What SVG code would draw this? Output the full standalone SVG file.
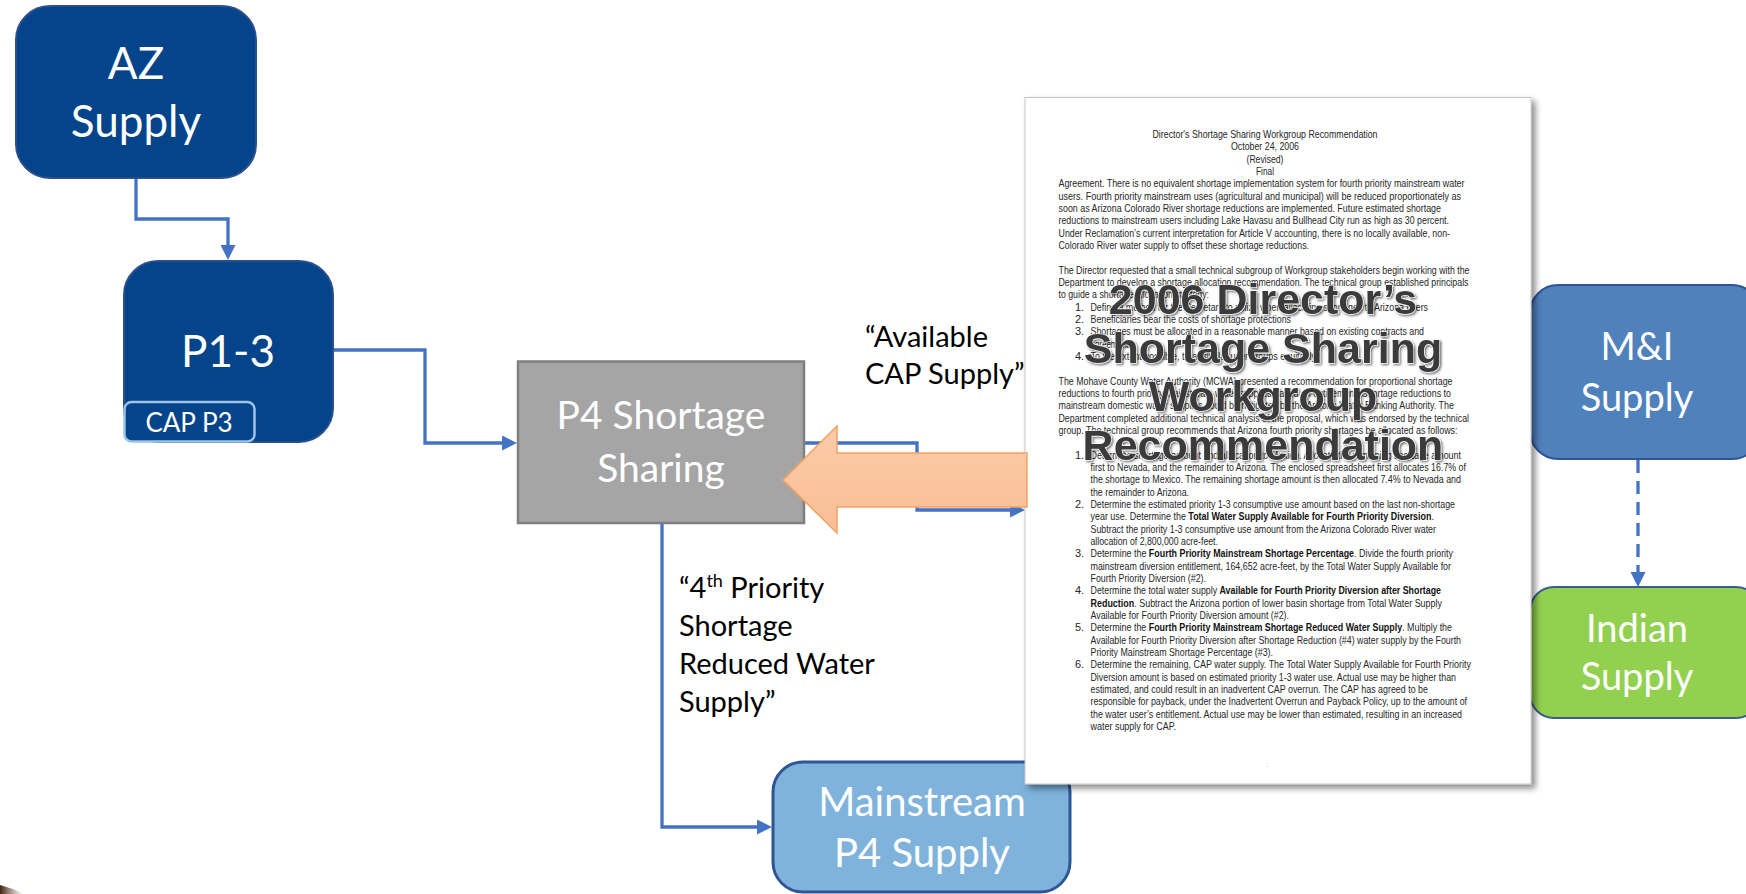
<svg xmlns="http://www.w3.org/2000/svg" width="1746" height="894" viewBox="0 0 1746 894">
  <defs>
    <style>
      .lbl { font-family: Lato, "Open Sans", sans-serif; fill: #ffffff; text-anchor: middle; }
      .note { font-family: Lato, "Open Sans", sans-serif; fill: #000000; font-size: 29px; }
      .wire { fill: none; stroke: #4472C4; stroke-width: 3.3; }
      .doc { font-family: "Liberation Sans", Arial, sans-serif; font-size: 11px; fill: #262626; }
      .doc .b { font-weight: bold; fill: #111111; }
      .ctr { text-anchor: middle; }
      .stamp { font-family: "Liberation Sans", Arial, sans-serif; font-weight: bold; font-size: 43px; fill: #3B3B3B; stroke: #ffffff; stroke-width: 1.2; paint-order: stroke; text-anchor: middle; }
    </style>
    <marker id="arr" viewBox="0 0 10 10" refX="7.3" refY="5" markerWidth="15" markerHeight="15" markerUnits="userSpaceOnUse" orient="auto">
      <path d="M0,0 L10,5 L0,10 z" fill="#4472C4"/>
    </marker>
    <filter id="pageShadow" x="-5%" y="-5%" width="115%" height="115%">
      <feDropShadow dx="4" dy="4" stdDeviation="3" flood-color="#000000" flood-opacity="0.45"/>
    </filter>
    <filter id="stampShadow" x="-5%" y="-20%" width="110%" height="140%">
      <feDropShadow dx="1.5" dy="1.5" stdDeviation="1.2" flood-color="#000000" flood-opacity="0.55"/>
    </filter>
    <linearGradient id="orange" x1="0" y1="0" x2="0" y2="1">
      <stop offset="0" stop-color="#FBCBA9"/>
      <stop offset="1" stop-color="#F9BE95"/>
    </linearGradient>
    <linearGradient id="smudge" x1="0" y1="0" x2="1" y2="0">
      <stop offset="0" stop-color="#3d2410"/>
      <stop offset="1" stop-color="#8a6a48" stop-opacity="0"/>
    </linearGradient>
  </defs>

  <rect width="1746" height="894" fill="#ffffff"/>
  <path d="M0,885 Q12,888 24,894 L0,894 Z" fill="url(#smudge)"/>

  <!-- flow lines -->
  <g id="connectors">
    <path class="wire" d="M136,178 V219 H228 V256" marker-end="url(#arr)"/>
    <path class="wire" d="M333,350 H425 V443 H513" marker-end="url(#arr)"/>
    <path class="wire" d="M805,443 H917 V510 H1021" marker-end="url(#arr)"/>
    <path class="wire" d="M662,523 V827 H768" marker-end="url(#arr)"/>
    <path class="wire" d="M1638,460 V583" stroke-dasharray="13 8" marker-end="url(#arr)"/>
    <text class="note" x="865" y="347">“Available</text>
    <text class="note" x="865" y="384">CAP Supply”</text>
    <text class="note" x="679" y="598">“4<tspan font-size="18" dy="-11">th</tspan><tspan dy="11"> Priority</tspan></text>
    <text class="note" x="679" y="636">Shortage</text>
    <text class="note" x="679" y="674">Reduced Water</text>
    <text class="note" x="679" y="712">Supply”</text>
  </g>

  <g id="az-supply">
    <rect x="16" y="6" width="240" height="172" rx="34" fill="#03448B" stroke="#2B4E8C" stroke-width="2"/>
    <text class="lbl" x="136" y="79" font-size="44">AZ</text>
    <text class="lbl" x="136" y="137" font-size="44">Supply</text>
  </g>

  <g id="p1-3">
    <rect x="124" y="261" width="209" height="181" rx="34" fill="#03448B" stroke="#2B4E8C" stroke-width="2"/>
    <text class="lbl" x="228" y="367" font-size="44">P1-3</text>
    <g id="cap-p3">
      <rect x="124.5" y="402" width="130" height="39.5" rx="7" fill="#03448B" stroke="#9DC3E6" stroke-width="2.5"/>
      <text class="lbl" x="189" y="432" font-size="26">CAP P3</text>
    </g>
  </g>

  <g id="p4-sharing">
    <rect x="518" y="361.5" width="286" height="161.5" fill="#A5A5A5" stroke="#7F7F7F" stroke-width="2.5"/>
    <text class="lbl" x="661" y="429" font-size="39" fill="#F2F2F2">P4 Shortage</text>
    <text class="lbl" x="661" y="482" font-size="39" fill="#F2F2F2">Sharing</text>
  </g>

  <g id="mi-supply">
    <rect x="1530" y="285" width="230" height="174" rx="28" fill="#4F81BD" stroke="#2F5597" stroke-width="2"/>
    <text class="lbl" x="1637" y="360" font-size="38">M&amp;I</text>
    <text class="lbl" x="1637" y="411" font-size="38">Supply</text>
  </g>

  <g id="indian-supply">
    <rect x="1530" y="587" width="230" height="131" rx="24" fill="#92D050" stroke="#3A5F8C" stroke-width="2"/>
    <text class="lbl" x="1637" y="642" font-size="38">Indian</text>
    <text class="lbl" x="1637" y="690" font-size="38">Supply</text>
  </g>

  <g id="mainstream-p4">
    <rect x="773" y="762" width="297" height="130" rx="30" fill="#7FB3DB" stroke="#2F5597" stroke-width="3"/>
    <text class="lbl" x="922" y="816" font-size="40">Mainstream</text>
    <text class="lbl" x="922" y="867" font-size="40">P4 Supply</text>
  </g>

  <g id="recommendation-doc">
    <rect x="1025" y="97.5" width="506" height="686.5" fill="#ffffff" stroke="#C6C6C6" stroke-width="1" filter="url(#pageShadow)"/>
    <g class="doc">
      <text class="ctr" x="1265" y="137.8" textLength="225" lengthAdjust="spacingAndGlyphs">Director's Shortage Sharing Workgroup Recommendation</text>
      <text class="ctr" x="1265" y="150.1" textLength="68" lengthAdjust="spacingAndGlyphs">October 24, 2006</text>
      <text class="ctr" x="1265" y="162.5" textLength="37" lengthAdjust="spacingAndGlyphs">(Revised)</text>
      <text class="ctr" x="1265" y="174.8" textLength="18" lengthAdjust="spacingAndGlyphs">Final</text>
      <text x="1058.5" y="187.2" textLength="406" lengthAdjust="spacingAndGlyphs">Agreement. There is no equivalent shortage implementation system for fourth priority mainstream water</text>
      <text x="1058.5" y="199.5" textLength="402.5" lengthAdjust="spacingAndGlyphs">users. Fourth priority mainstream uses (agricultural and municipal) will be reduced proportionately as</text>
      <text x="1058.5" y="211.8" textLength="382.5" lengthAdjust="spacingAndGlyphs">soon as Arizona Colorado River shortage reductions are implemented. Future estimated shortage</text>
      <text x="1058.5" y="224.2" textLength="390.5" lengthAdjust="spacingAndGlyphs">reductions to mainstream users including Lake Havasu and Bullhead City run as high as 30 percent.</text>
      <text x="1058.5" y="236.5" textLength="391.5" lengthAdjust="spacingAndGlyphs">Under Reclamation’s current interpretation for Article V accounting, there is no locally available, non-</text>
      <text x="1058.5" y="248.9" textLength="250.5" lengthAdjust="spacingAndGlyphs">Colorado River water supply to offset these shortage reductions.</text>
      <text x="1058.5" y="273.5" textLength="411" lengthAdjust="spacingAndGlyphs">The Director requested that a small technical subgroup of Workgroup stakeholders begin working with the</text>
      <text x="1058.5" y="285.9" textLength="410" lengthAdjust="spacingAndGlyphs">Department to develop a shortage allocation recommendation. The technical group established principals</text>
      <text x="1058.5" y="298.2" textLength="150.5" lengthAdjust="spacingAndGlyphs">to guide a shortage allocation strategy:</text>
      <text x="1075" y="310.6">1.</text>
      <text x="1090.5" y="310.6" textLength="337.5" lengthAdjust="spacingAndGlyphs">Define a method for the Secretary to utilize when allocating shortages to Arizona users</text>
      <text x="1075" y="322.9">2.</text>
      <text x="1090.5" y="322.9" textLength="200.5" lengthAdjust="spacingAndGlyphs">Beneficiaries bear the costs of shortage protections</text>
      <text x="1075" y="335.2">3.</text>
      <text x="1090.5" y="335.2" textLength="333.5" lengthAdjust="spacingAndGlyphs">Shortages must be allocated in a reasonable manner based on existing contracts and</text>
      <text x="1090.5" y="347.6" textLength="42" lengthAdjust="spacingAndGlyphs">agreements</text>
      <text x="1075" y="359.9">4.</text>
      <text x="1090.5" y="359.9" textLength="225.5" lengthAdjust="spacingAndGlyphs">To the extent possible, treat similar user groups equitably</text>
      <text x="1058.5" y="384.6" textLength="394" lengthAdjust="spacingAndGlyphs">The Mohave County Water Authority (MCWA) presented a recommendation for proportional shortage</text>
      <text x="1058.5" y="397" textLength="392.5" lengthAdjust="spacingAndGlyphs">reductions to fourth priority mainstream water supplies based on entitlement. Shortage reductions to</text>
      <text x="1058.5" y="409.3" textLength="395.5" lengthAdjust="spacingAndGlyphs">mainstream domestic water supplies could be mitigated by the Arizona Water Banking Authority. The</text>
      <text x="1058.5" y="421.6" textLength="410.5" lengthAdjust="spacingAndGlyphs">Department completed additional technical analysis of the proposal, which was endorsed by the technical</text>
      <text x="1058.5" y="434" textLength="399" lengthAdjust="spacingAndGlyphs">group. The technical group recommends that Arizona fourth priority shortages be allocated as follows:</text>
      <text x="1075" y="458.6">1.</text>
      <text x="1090.5" y="458.6" textLength="370.5" lengthAdjust="spacingAndGlyphs">Determine shortage amount and allocation to Mexico. Allocate the remaining shortage amount</text>
      <text x="1090.5" y="471" textLength="375.5" lengthAdjust="spacingAndGlyphs">first to Nevada, and the remainder to Arizona. The enclosed spreadsheet first allocates 16.7% of</text>
      <text x="1090.5" y="483.3" textLength="370.5" lengthAdjust="spacingAndGlyphs">the shortage to Mexico. The remaining shortage amount is then allocated 7.4% to Nevada and</text>
      <text x="1090.5" y="495.7" textLength="98.5" lengthAdjust="spacingAndGlyphs">the remainder to Arizona.</text>
      <text x="1075" y="508">2.</text>
      <text x="1090.5" y="508" textLength="364.5" lengthAdjust="spacingAndGlyphs">Determine the estimated priority 1-3 consumptive use amount based on the last non-shortage</text>
      <text x="1090.5" y="520.3" textLength="343.5" lengthAdjust="spacingAndGlyphs">year use. Determine the <tspan class="b">Total Water Supply Available for Fourth Priority Diversion</tspan>.</text>
      <text x="1090.5" y="532.7" textLength="345.5" lengthAdjust="spacingAndGlyphs">Subtract the priority 1-3 consumptive use amount from the Arizona Colorado River water</text>
      <text x="1090.5" y="545" textLength="127.5" lengthAdjust="spacingAndGlyphs">allocation of 2,800,000 acre-feet.</text>
      <text x="1075" y="557.4">3.</text>
      <text x="1090.5" y="557.4" textLength="362.5" lengthAdjust="spacingAndGlyphs">Determine the <tspan class="b">Fourth Priority Mainstream Shortage Percentage</tspan>. Divide the fourth priority</text>
      <text x="1090.5" y="569.7" textLength="360.5" lengthAdjust="spacingAndGlyphs">mainstream diversion entitlement, 164,652 acre-feet, by the Total Water Supply Available for</text>
      <text x="1090.5" y="582" textLength="115.5" lengthAdjust="spacingAndGlyphs">Fourth Priority Diversion (#2).</text>
      <text x="1075" y="594.4">4.</text>
      <text x="1090.5" y="594.4" textLength="350.5" lengthAdjust="spacingAndGlyphs">Determine the total water supply <tspan class="b">Available for Fourth Priority Diversion after Shortage</tspan></text>
      <text x="1090.5" y="606.7" textLength="351.5" lengthAdjust="spacingAndGlyphs"><tspan class="b">Reduction</tspan>. Subtract the Arizona portion of lower basin shortage from Total Water Supply</text>
      <text x="1090.5" y="619.1" textLength="198.5" lengthAdjust="spacingAndGlyphs">Available for Fourth Priority Diversion amount (#2).</text>
      <text x="1075" y="631.4">5.</text>
      <text x="1090.5" y="631.4" textLength="361.5" lengthAdjust="spacingAndGlyphs">Determine the <tspan class="b">Fourth Priority Mainstream Shortage Reduced Water Supply</tspan>. Multiply the</text>
      <text x="1090.5" y="643.7" textLength="370.5" lengthAdjust="spacingAndGlyphs">Available for Fourth Priority Diversion after Shortage Reduction (#4) water supply by the Fourth</text>
      <text x="1090.5" y="656.1" textLength="182.5" lengthAdjust="spacingAndGlyphs">Priority Mainstream Shortage Percentage (#3).</text>
      <text x="1075" y="668.4">6.</text>
      <text x="1090.5" y="668.4" textLength="380.5" lengthAdjust="spacingAndGlyphs">Determine the remaining, CAP water supply. The Total Water Supply Available for Fourth Priority</text>
      <text x="1090.5" y="680.8" textLength="365.5" lengthAdjust="spacingAndGlyphs">Diversion amount is based on estimated priority 1-3 water use. Actual use may be higher than</text>
      <text x="1090.5" y="693.1" textLength="337.5" lengthAdjust="spacingAndGlyphs">estimated, and could result in an inadvertent CAP overrun. The CAP has agreed to be</text>
      <text x="1090.5" y="705.4" textLength="376.5" lengthAdjust="spacingAndGlyphs">responsible for payback, under the Inadvertent Overrun and Payback Policy, up to the amount of</text>
      <text x="1090.5" y="717.8" textLength="371.5" lengthAdjust="spacingAndGlyphs">the water user’s entitlement. Actual use may be lower than estimated, resulting in an increased</text>
      <text x="1090.5" y="730.1" textLength="85.5" lengthAdjust="spacingAndGlyphs">water supply for CAP.</text>
      <text x="1266" y="767" font-size="8" fill="#9DC3E6">:</text>
    </g>
    <g filter="url(#stampShadow)">
      <text class="stamp" x="1263" y="314">2006 Director’s</text>
      <text class="stamp" x="1263" y="362.5">Shortage Sharing</text>
      <text class="stamp" x="1263" y="411">Workgroup</text>
      <text class="stamp" x="1263" y="459.5">Recommendation</text>
    </g>
  </g>

  <g id="input-arrow">
    <polygon points="783,480 837,426 837,453 1027,453 1027,507 837,507 837,533" fill="url(#orange)" stroke="#F4A262" stroke-width="1.5"/>
  </g>
</svg>
